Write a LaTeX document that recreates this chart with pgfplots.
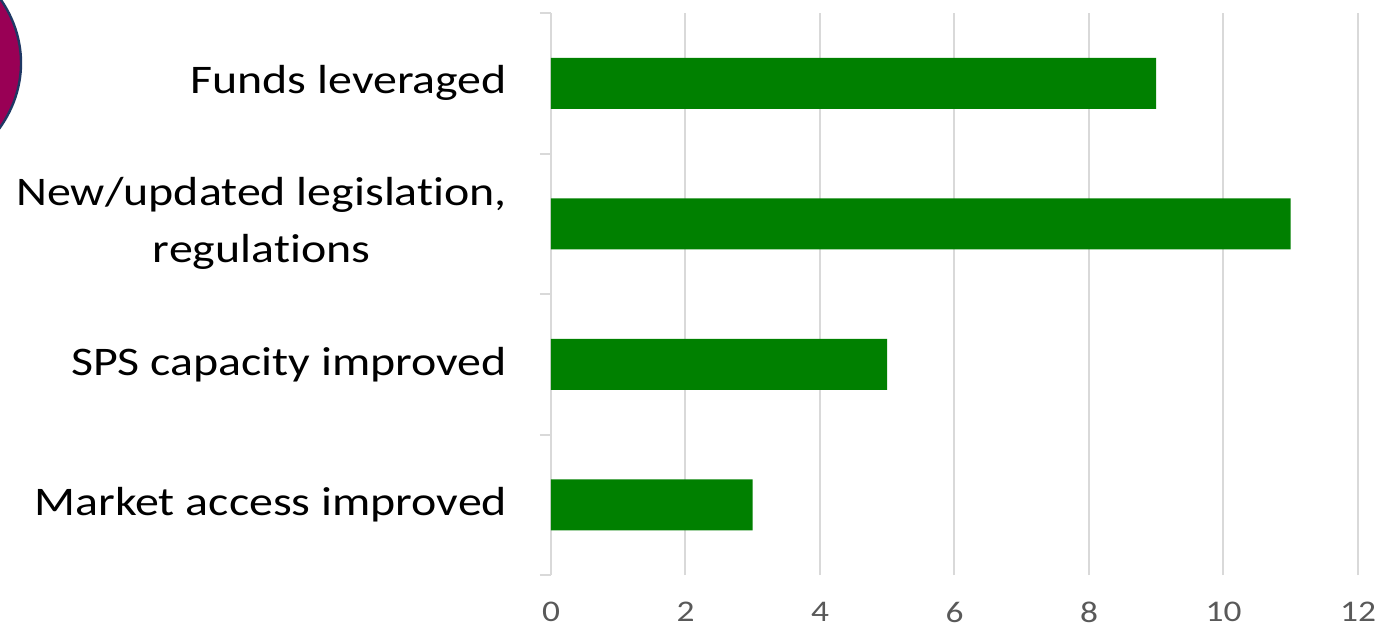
\documentclass[border=0pt]{standalone}
\usepackage{fontspec}
\setmainfont{Carlito}[FakeStretch=1.18, Ligatures={NoCommon}]
\usepackage{pgfplots}
\pgfplotsset{compat=1.18}
\definecolor{barg}{HTML}{008000}
\definecolor{gridc}{HTML}{D9D9D9}
\definecolor{tickc}{HTML}{595959}
\definecolor{circf}{HTML}{990055}
\definecolor{circb}{HTML}{1F3864}
\begin{document}
\begin{tikzpicture}
\useasboundingbox (-275.5pt,-26.5pt) rectangle (415pt,287.5pt);
\begin{scope}
\clip (-275.5pt,-26.5pt) rectangle (415pt,287.5pt);
\filldraw[fill=circf,draw=circb,line width=1.2pt] (-339.5pt,256pt) ellipse [x radius=74.5pt, y radius=63pt];
\end{scope}
\begin{axis}[
  at={(0pt,0pt)}, anchor=south west,
  scale only axis,
  width=403.5pt, height=281pt,
  xbar, bar width=25.5pt,
  xmin=0, xmax=12,
  ymin=-0.5, ymax=3.5,
  axis line style={draw=none},
  xtick={0,2,...,12},
  ytick={0,1,2,3},
  minor ytick={-0.5,0.5,1.5,2.5,3.5},
  ytick pos=left,
  xtick pos=bottom,
  major tick length=0pt,
  minor tick length=5.5pt,
  tick align=outside,
  minor tick style={gridc, line width=1pt},
  xmajorgrids,
  major grid style={gridc, line width=1pt},
  yticklabels={Market access improved, SPS capacity improved, {New/updated legislation,\\regulations}, Funds leveraged},
  yticklabel style={align=center, inner sep=0pt, xshift=-21.8pt, font=\fontsize{20.3}{28.5}\selectfont, text=black},
  xticklabel style={inner sep=0pt, yshift=-13.2pt, font=\fontsize{15}{17}\selectfont, text=tickc},
  /pgf/number format/assume math mode=true,
  clip=false,
]
\addplot[fill=barg, draw=none] coordinates {(3,0) (5,1) (11,2) (9,3)};
\end{axis}
\end{tikzpicture}
\end{document}
